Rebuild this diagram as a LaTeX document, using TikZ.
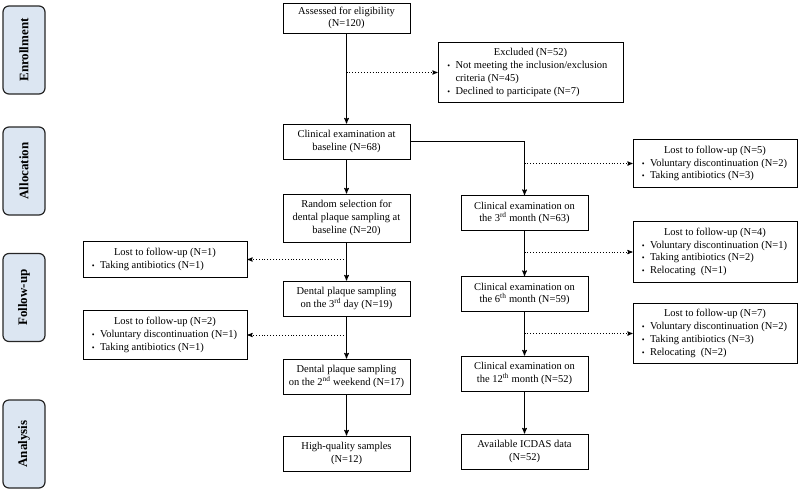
\documentclass[tikz,border=0pt]{standalone}
\usepackage{fontspec}
\setmainfont{Liberation Serif}
\usepackage{tikz}
\usetikzlibrary{arrows,positioning}

\definecolor{sidefill}{HTML}{DCE6F2}
\newcommand{\bul}{{\footnotesize\textbullet}}

\begin{document}
\begin{tikzpicture}[x=1pt,y=-1pt,>=stealth',auto,
	font=\fontsize{10.5}{12.7}\selectfont,
	box/.style={draw,line width=1pt,align=center,minimum width=127pt,minimum height=35pt,inner sep=2pt},
	lostbox/.style={draw,line width=1pt,minimum width=164pt,inner xsep=4pt,inner ysep=5pt},
	sidebox/.style={draw=black!85,line width=1.2pt,fill=sidefill,rounded corners=6pt,rotate=90,
		minimum width=88pt,minimum height=42pt,font=\fontsize{13}{15}\selectfont\bfseries},
	flow/.style={->,line width=1pt},
	drop/.style={->,line width=0.9pt,dotted}]
	\useasboundingbox (0,0) rectangle (800,491);

	% stage labels
	\node (enroll) [sidebox] at (24,50) {Enrollment};
	\node (alloc) [sidebox] at (24,171) {Allocation};
	\node (follow) [sidebox] at (24,297.5) {Follow-up};
	\node (analys) [sidebox] at (24,444) {Analysis};

	% left column
	\node (assess) [box,minimum height=30pt] at (346.5,18) {Assessed for eligibility\\(N=120)};
	\node (base) [box] [below=90pt of assess] {Clinical examination at\\baseline (N=68)};
	\node (rand) [box,minimum height=48pt] [below=34pt of base] {Random selection for\\dental plaque sampling at\\baseline (N=20)};
	\node (day3) [box] [below=38pt of rand] {Dental plaque sampling\\on the 3\textsuperscript{rd} day (N=19)};
	\node (wkd) [box] [below=42pt of day3] {Dental plaque sampling\\on the 2\textsuperscript{nd} weekend (N=17)};
	\node (hq) [box] [below=41pt of wkd] {High-quality samples\\(N=12)};

	% right column
	\node (m3) [box] at (524.5,213) {Clinical examination on\\the 3\textsuperscript{rd} month (N=63)};
	\node (m6) [box] [below=45pt of m3] {Clinical examination on\\the 6\textsuperscript{th} month (N=59)};
	\node (m12) [box] [below=43.5pt of m6] {Clinical examination on\\the 12\textsuperscript{th} month (N=52)};
	\node (icdas) [box] [below=42pt of m12] {Available ICDAS data\\(N=52)};

	% excluded and lost
	\node (excl) [lostbox,minimum width=185pt] at (530.5,72.5) {
		\begin{tabular}{@{}l@{\ \ }p{158pt}@{}}
			\multicolumn{2}{c}{Excluded (N=52)}\\
			\bul & Not meeting the inclusion/exclusion\\
			 & criteria (N=45)\\
			\bul & Declined to participate (N=7)
		\end{tabular}
	};
	\node (lost5) [lostbox] at (715,163.5) {
		\begin{tabular}{@{}l@{\ \ }p{138pt}@{}}
			\multicolumn{2}{c}{Lost to follow-up (N=5)}\\
			\bul & Voluntary discontinuation (N=2)\\
			\bul & Taking antibiotics (N=3)
		\end{tabular}
	};
	\node (lost4) [lostbox] at (715,252) {
		\begin{tabular}{@{}l@{\ \ }p{138pt}@{}}
			\multicolumn{2}{c}{Lost to follow-up (N=4)}\\
			\bul & Voluntary discontinuation (N=1)\\
			\bul & Taking antibiotics (N=2)\\
			\bul & Relocating\ \ (N=1)
		\end{tabular}
	};
	\node (lost7) [lostbox] at (715,333.5) {
		\begin{tabular}{@{}l@{\ \ }p{138pt}@{}}
			\multicolumn{2}{c}{Lost to follow-up (N=7)}\\
			\bul & Voluntary discontinuation (N=2)\\
			\bul & Taking antibiotics (N=3)\\
			\bul & Relocating\ \ (N=2)
		\end{tabular}
	};
	\node (lost1) [lostbox] at (165,259.5) {
		\begin{tabular}{@{}l@{\ \ }p{138pt}@{}}
			\multicolumn{2}{c}{Lost to follow-up (N=1)}\\
			\bul & Taking antibiotics (N=1)
		\end{tabular}
	};
	\node (lost2) [lostbox] at (165,335) {
		\begin{tabular}{@{}l@{\ \ }p{138pt}@{}}
			\multicolumn{2}{c}{Lost to follow-up (N=2)}\\
			\bul & Voluntary discontinuation (N=1)\\
			\bul & Taking antibiotics (N=1)
		\end{tabular}
	};

	% main flow
	\draw[flow] (assess) -- (base);
	\draw[flow] (base) -- (rand);
	\draw[flow] (rand) -- (day3);
	\draw[flow] (day3) -- (wkd);
	\draw[flow] (wkd) -- (hq);
	\draw[flow] (base.east) -| (m3.north);
	\draw[flow] (m3) -- (m6);
	\draw[flow] (m6) -- (m12);
	\draw[flow] (m12) -- (icdas);

	% drop-outs
	\draw[drop] (excl.west -| assess.south) -- (excl.west);
	\draw[drop] (lost5.west -| m3.north) -- (lost5.west);
	\draw[drop] (lost4.west -| m3.south) -- (lost4.west);
	\draw[drop] (lost7.west -| m6.south) -- (lost7.west);
	\draw[drop] (lost1.east -| rand.south) -- (lost1.east);
	\draw[drop] (lost2.east -| day3.south) -- (lost2.east);
\end{tikzpicture}
\end{document}
